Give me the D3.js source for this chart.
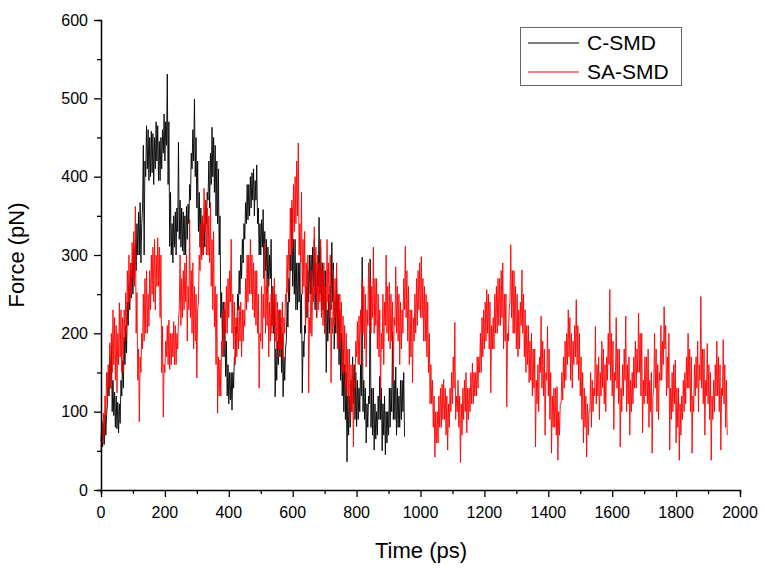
<!DOCTYPE html>
<html><head><meta charset="utf-8">
<script src="https://cdn.jsdelivr.net/npm/d3@7"></script>
<style>body{margin:0;background:#fff}svg{display:block}text{font-family:"Liberation Sans",Arial,sans-serif;fill:#000}</style>
</head><body><svg id="c" width="765" height="571"></svg>
<script>
const timeStep = 2.5; // ps between samples
const seriesNames = ["C-SMD", "SA-SMD"];
const seriesColors = ["#000000", "#ff0000"];
const xTicks = [0,200,400,600,800,1000,1200,1400,1600,1800,2000];
const yTicks = [0,100,200,300,400,500,600];
const cSMD = [
62,88,55,85,58,96,70,95,110,150,120,170,130,185,100,140,95,125,80,120,
78,112,73,110,85,140,120,165,130,195,160,210,175,240,210,260,230,280,245,290,
250,310,270,320,280,340,300,355,300,367,290,340,360,440,300,420,400,465,410,460,
395,450,400,458,405,455,390,450,410,470,420,465,395,445,395,450,410,460,430,480,
420,470,440,531,390,470,311,380,300,340,290,350,310,355,300,360,330,444,320,370,
310,360,305,355,300,350,300,362,320,365,340,390,370,430,410,460,420,499,400,450,
360,420,330,380,310,360,300,350,300,340,310,370,340,380,370,420,360,430,390,463,
400,450,380,440,350,420,340,410,300,350,220,252,190,240,170,230,145,190,120,160,
110,150,115,150,102,150,130,170,170,208,200,250,230,280,250,300,270,320,290,340,
320,367,340,390,345,390,350,400,360,405,370,410,350,395,370,415,340,360,300,340,
300,345,310,358,270,330,280,320,252,310,260,300,270,320,210,260,200,252,119,180,
140,190,160,230,170,220,150,200,119,170,140,180,190,240,208,270,240,300,280,360,
260,320,250,320,230,290,230,290,240,290,200,250,124,190,170,210,200,260,220,280,
240,300,250,300,250,310,260,320,230,290,220,280,260,348,250,310,230,290,230,280,
200,280,150,230,190,250,200,260,230,316,240,290,180,240,200,270,200,250,160,230,
140,200,120,179,100,160,90,150,36,120,70,120,80,140,100,170,110,160,90,150,
81,140,90,130,100,160,120,297,100,140,90,130,60,110,80,120,110,295,80,130,
70,130,51,110,65,100,70,120,90,145,90,130,50,110,70,120,45,100,60,100,
70,130,80,130,100,202,90,140,90,157,70,130,80,120,80,140,90,140,100,150,
68];
const saSMD = [
50,80,60,98,70,120,95,150,110,160,130,188,130,200,150,230,160,220,140,210,
124,200,160,239,170,230,150,220,150,230,190,252,200,280,230,300,240,290,250,316,
270,330,260,362,200,252,140,180,87,170,150,200,180,250,190,270,200,280,200,250,
209,280,230,300,250,310,240,320,230,300,260,322,260,310,220,300,150,209,93,160,
150,190,170,210,160,217,154,200,160,200,170,215,160,210,160,200,180,217,230,300,
210,270,220,280,230,290,240,300,190,260,230,345,220,280,200,290,180,260,190,250,
143,230,240,300,280,340,294,350,300,385,330,370,300,360,300,350,290,367,260,320,
230,330,208,260,160,250,98,170,120,166,120,190,170,230,180,240,200,260,200,270,
220,280,240,320,200,250,180,240,160,220,170,220,180,235,190,240,170,230,190,230,
209,270,230,300,240,300,250,320,250,300,230,290,220,280,210,280,200,250,130,200,
190,260,180,250,220,315,200,260,210,270,170,240,190,250,200,260,210,270,190,250,
180,240,170,230,180,230,180,240,166,220,200,250,240,300,252,320,280,360,300,370,
310,390,330,400,340,420,350,443,300,340,290,380,250,320,260,330,210,290,230,300,
124,220,200,280,196,260,240,336,250,310,220,300,230,290,240,320,220,280,210,290,
200,260,230,320,240,290,220,300,137,220,200,280,210,270,220,290,180,250,180,250,
190,240,150,222,150,210,130,200,120,180,110,180,90,160,100,160,55,140,130,190,
170,215,160,222,160,230,200,270,200,260,180,250,157,230,210,290,210,270,200,260,
220,310,200,270,210,270,180,250,170,230,115,200,180,250,160,240,210,300,200,260,
190,265,180,250,190,240,137,220,210,285,200,260,190,250,160,240,180,230,200,270,
230,311,220,280,190,260,160,230,170,230,137,220,190,250,200,270,210,280,230,290,
220,298,220,270,190,260,190,250,170,240,150,200,110,160,110,140,80,120,42,100,
60,100,60,120,80,130,80,135,90,141,90,130,70,120,51,110,80,130,100,150,
110,170,130,214,90,120,100,140,80,120,35,110,70,130,90,140,100,150,73,130,
90,130,100,150,110,162,110,150,120,150,120,170,130,170,150,200,150,220,170,230,
180,240,190,256,200,250,180,240,124,210,180,220,180,250,200,260,200,270,210,270,
210,280,220,290,180,250,190,250,106,200,190,230,240,313,220,280,200,280,200,260,
180,250,170,230,180,240,210,281,200,250,170,230,150,210,160,210,137,190,140,200,
120,180,130,180,55,140,110,160,100,170,150,222,130,190,120,180,70,150,140,209,
120,180,90,150,47,120,80,130,80,130,70,132,38,100,70,110,110,150,115,170,
130,190,140,200,160,230,170,220,140,200,130,190,160,210,170,243,160,210,140,200,
120,170,90,150,60,130,80,120,42,110,70,100,100,150,80,140,100,130,120,209,
110,160,120,170,90,150,120,190,130,180,110,160,100,170,140,200,160,256,140,200,
120,190,77,150,140,220,130,180,110,180,55,130,100,160,120,180,140,222,100,160,
110,170,70,140,100,150,110,170,130,190,130,180,150,226,150,200,120,200,73,140,
110,170,120,170,110,180,80,140,100,150,47,120,130,200,130,180,100,160,90,150,
140,210,140,190,160,234,180,210,120,170,130,200,51,130,90,150,100,160,110,166,
60,130,80,130,38,110,70,120,90,140,100,150,110,170,130,200,130,180,100,170,
47,120,100,160,120,170,130,190,100,160,140,247,130,180,110,180,70,140,120,187,
110,160,90,150,38,120,90,140,100,160,120,190,120,170,100,160,51,130,120,192,
110,160,80,140,
70];

const svg = d3.select("#c");
const x = d3.scaleLinear().domain([0,2000]).range([101,740]);
const y = d3.scaleLinear().domain([0,600]).range([490,20]);

const line = d3.line().x((d,i)=>x(i*timeStep)).y(d=>y(d));
[cSMD, saSMD].forEach((s,k)=>{
  svg.append("path").datum(s).attr("d",line).attr("fill","none")
    .attr("stroke",seriesColors[k]).attr("stroke-width",0.9).attr("stroke-linejoin","round");
});

// axes
const xAxis = svg.append("g").attr("transform","translate(0,490)");
xAxis.call(d3.axisBottom(x).tickValues(d3.range(0,2001,100)).tickSize(4).tickFormat(""));
xAxis.call(g=>g.selectAll(".tick").filter(d=>d%200===0).select("line").attr("y2",7));
xAxis.selectAll("text").remove();
const yAxis = svg.append("g").attr("transform","translate(101,0)");
yAxis.call(d3.axisLeft(y).tickValues(d3.range(0,601,50)).tickSize(4).tickFormat(""));
yAxis.call(g=>g.selectAll(".tick").filter(d=>d%100===0).select("line").attr("x2",-7));
[xAxis,yAxis].forEach(g=>{g.select(".domain").attr("stroke","#000").attr("stroke-width",1.5);g.selectAll(".tick line").attr("stroke","#000").attr("stroke-width",1.3);});

svg.append("g").selectAll("text").data(xTicks).join("text")
  .attr("x",d=>x(d)).attr("y",518).attr("text-anchor","middle").attr("font-size",16).text(d=>d);
svg.append("g").selectAll("text").data(yTicks).join("text")
  .attr("x",88).attr("y",d=>y(d)+5.5).attr("text-anchor","end").attr("font-size",16).text(d=>d);

svg.append("text").attr("x",421).attr("y",558).attr("text-anchor","middle").attr("font-size",22).text("Time (ps)");
svg.append("text").attr("transform","translate(24,255) rotate(-90)").attr("text-anchor","middle").attr("font-size",22).text("Force (pN)");

// legend
const lg = svg.append("g");
lg.append("rect").attr("x",520.5).attr("y",27.5).attr("width",161).attr("height",58).attr("fill","#fff").attr("stroke","#666").attr("stroke-width",1);
seriesNames.forEach((n,k)=>{
  const yy = 43 + k*29;
  lg.append("line").attr("x1",528).attr("x2",579).attr("y1",yy).attr("y2",yy).attr("stroke",seriesColors[k]).attr("stroke-width",1);
  lg.append("text").attr("x",587).attr("y",yy+7).attr("font-size",21).text(n);
});
</script></body></html>
